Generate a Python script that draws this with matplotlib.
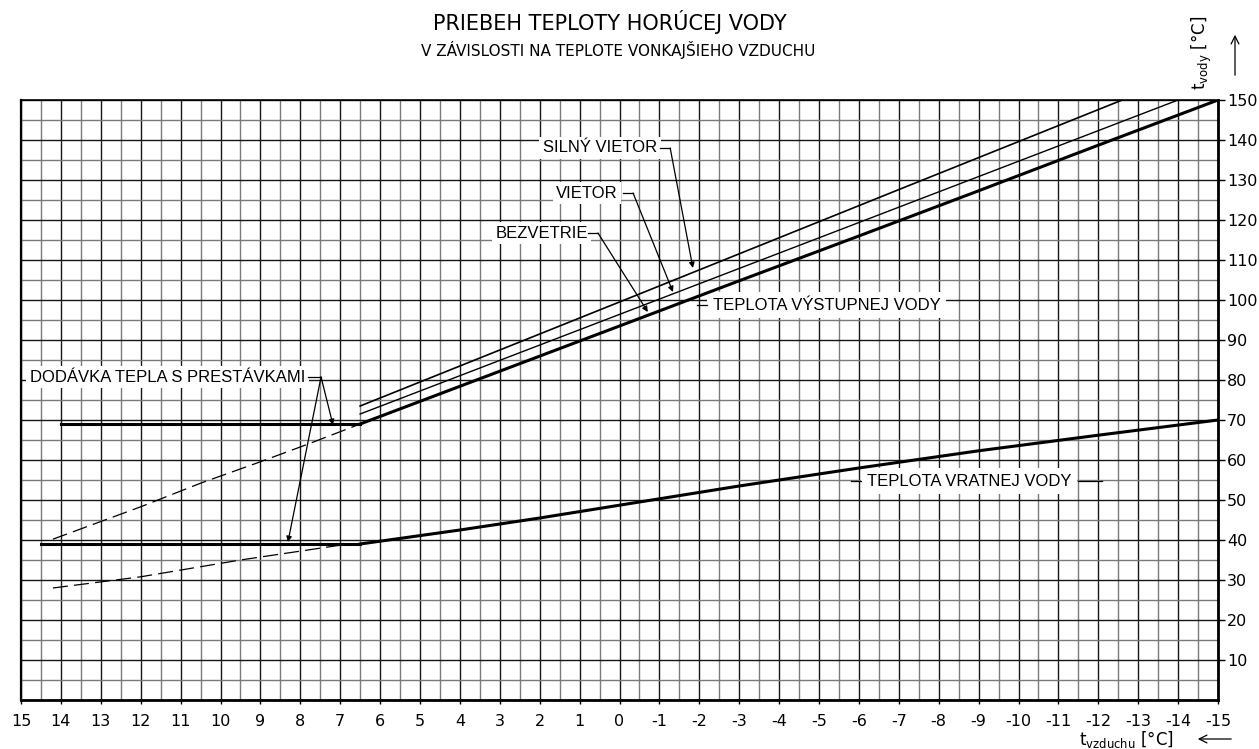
import matplotlib
matplotlib.use('Agg')
import matplotlib.pyplot as plt
from matplotlib.ticker import MultipleLocator

plt.rcParams['axes.unicode_minus'] = False
plt.rcParams['font.family'] = ['DejaVu Sans']
plt.rcParams['mathtext.fontset'] = 'dejavusans'

# outdoor air temperature [°C] vs water temperature [°C]
supply_calm_x = [6.5, 3.0, 0.0, -3.0, -6.0, -9.0, -12.0, -15.0]
supply_calm_y = [69.0, 82.2, 93.5, 104.8, 116.0, 127.3, 138.7, 150.0]
supply_wind_x = [6.5, 0.0, -7.0, -14.0]
supply_wind_y = [71.5, 96.4, 123.2, 150.0]
supply_strong_x = [6.5, 0.0, -7.0, -12.6]
supply_strong_y = [73.5, 99.5, 127.6, 150.0]
supply_flat_x = [14.0, 6.5]
supply_flat_y = [69.0, 69.0]
supply_dash_x = [14.2, 12.0, 10.5, 9.1, 7.8, 6.5]
supply_dash_y = [40.2, 48.3, 54.2, 59.2, 64.0, 69.0]

return_x = [6.5, 4.0, 2.0, 0.0, -3.0, -6.0, -9.0, -12.0, -15.0]
return_y = [39.0, 42.5, 45.5, 48.7, 53.5, 58.0, 62.3, 66.2, 70.0]
return_flat_x = [14.5, 6.5]
return_flat_y = [39.0, 39.0]
return_dash_x = [14.2, 12.0, 9.5, 7.0, 6.5]
return_dash_y = [28.0, 30.8, 35.0, 38.7, 39.0]

x_ticks = list(range(15, -16, -1))
x_labels = [str(v) for v in x_ticks]
y_ticks = list(range(10, 151, 10))
y_labels = [str(v) for v in y_ticks]

W, H = 1259, 749
fig = plt.figure(figsize=(W / 100, H / 100), dpi=100)
ax = fig.add_axes([21 / W, 49 / H, 1197 / W, 600 / H])
ax.set_xlim(15, -15)
ax.set_ylim(0, 150)

# grid paper
ax.set_xticks(x_ticks)
ax.set_xticklabels(x_labels)
ax.xaxis.set_minor_locator(MultipleLocator(0.5))
ax.set_yticks(y_ticks)
ax.set_yticklabels(y_labels)
ax.yaxis.set_minor_locator(MultipleLocator(5))
ax.grid(which='major', color='#151515', lw=1.0, zorder=0)
ax.grid(which='minor', color='#7a7a7a', lw=1.0, zorder=0)
ax.set_axisbelow(True)
ax.yaxis.tick_right()
ax.tick_params(axis='x', which='major', direction='out', length=3, width=1.0,
               pad=7, labelsize=11.5)
ax.tick_params(axis='y', which='major', direction='out', length=5, width=1.0,
               pad=1.5, labelsize=11.5)
ax.tick_params(which='minor', length=0)
for side, w in [('left', 1.6), ('top', 1.2), ('right', 2.0), ('bottom', 2.0)]:
    ax.spines[side].set_linewidth(w)
    ax.spines[side].set_color('black')

# curves
ax.plot(supply_calm_x, supply_calm_y, color='black', lw=2.2, zorder=3)
ax.plot(supply_wind_x, supply_wind_y, color='black', lw=1.0, zorder=3)
ax.plot(supply_strong_x, supply_strong_y, color='black', lw=1.2, zorder=3)
ax.plot(supply_flat_x, supply_flat_y, color='black', lw=2.2, zorder=3)
ax.plot(supply_dash_x, supply_dash_y, color='black', lw=0.9,
        linestyle=(0, (12, 5)), zorder=3)
ax.plot(return_x, return_y, color='black', lw=2.2, zorder=3)
ax.plot(return_flat_x, return_flat_y, color='black', lw=2.2, zorder=3)
ax.plot(return_dash_x, return_dash_y, color='black', lw=0.9,
        linestyle=(0, (12, 5)), zorder=3)

lab_font = dict(family='Liberation Sans', fontsize=12, color='black')
box = dict(facecolor='white', edgecolor='none', pad=2.5)
arr = dict(arrowstyle='-|>', color='black', lw=0.9, mutation_scale=8,
           shrinkA=0, shrinkB=0)


def leader(tx, ty, text, corner, target):
    ax.text(tx, ty, text, ha='right', va='center', zorder=2.5, bbox=box, **lab_font)
    ax.plot([corner[0] + 0.25, corner[0]], [ty, ty], color='black', lw=0.9, zorder=5)
    ax.annotate('', xy=target, xytext=(corner[0], ty), arrowprops=arr, zorder=5)


leader(-0.94, 138.0, 'SILNÝ VIETOR', (-1.27, 138.0), (-1.84, 108.0))
leader(0.04, 126.75, 'VIETOR', (-0.34, 126.75), (-1.34, 102.0))
leader(0.79, 116.75, 'BEZVETRIE', (0.54, 116.75), (-0.71, 97.0))

ax.text(7.88, 80.75, 'DODÁVKA TEPLA S PRESTÁVKAMI', ha='right', va='center',
        zorder=2.5, bbox=box, **lab_font)
ax.plot([7.81, 7.48], [80.75, 80.75], color='black', lw=0.9, zorder=5)
ax.annotate('', xy=(7.18, 68.75), xytext=(7.48, 80.75), arrowprops=arr, zorder=5)
ax.annotate('', xy=(8.31, 39.5), xytext=(7.48, 80.75), arrowprops=arr, zorder=5)

ax.text(-2.34, 98.75, 'TEPLOTA VÝSTUPNEJ VODY', ha='left', va='center',
        zorder=2.5, bbox=dict(facecolor='white', edgecolor='none', pad=4), **lab_font)
ax.plot([-1.95, -2.2], [98.75, 98.75], color='black', lw=0.9, zorder=6)

ax.text(-6.2, 54.75, 'TEPLOTA VRATNEJ VODY', ha='left', va='center',
        zorder=2.5, bbox=dict(facecolor='white', edgecolor='none', pad=4), **lab_font)
ax.plot([-5.8, -6.05], [54.75, 54.75], color='black', lw=0.9, zorder=6)
ax.plot([-11.5, -12.1], [54.75, 54.75], color='black', lw=0.9, zorder=6)

# titles
fig.text(610 / W, 1 - 22 / H, 'PRIEBEH TEPLOTY HORÚCEJ VODY', ha='center',
         va='center', fontsize=15)
fig.text(618 / W, 1 - 50 / H, 'V ZÁVISLOSTI NA TEPLOTE VONKAJŠIEHO VZDUCHU',
         ha='center', va='center', fontsize=11)

# axis names with arrows
fig.text(1202 / W, 1 - 53 / H, r'$\mathregular{t_{vody}}$ [°C]', rotation=90,
         ha='center', va='center', fontsize=12)
fig.text(1126 / W, 1 - 739 / H, r'$\mathregular{t_{vzduchu}}$ [°C]',
         ha='center', va='center', fontsize=12)
fig.patches.append(matplotlib.patches.FancyArrowPatch(
    (1235 / W, 1 - 78 / H), (1235 / W, 1 - 32 / H), transform=fig.transFigure,
    arrowstyle='->', mutation_scale=14, lw=0.9, color='black'))
fig.patches.append(matplotlib.patches.FancyArrowPatch(
    (1234 / W, 1 - 739 / H), (1195 / W, 1 - 739 / H), transform=fig.transFigure,
    arrowstyle='->', mutation_scale=14, lw=0.9, color='black'))

fig.savefig('out.png', dpi=100)
